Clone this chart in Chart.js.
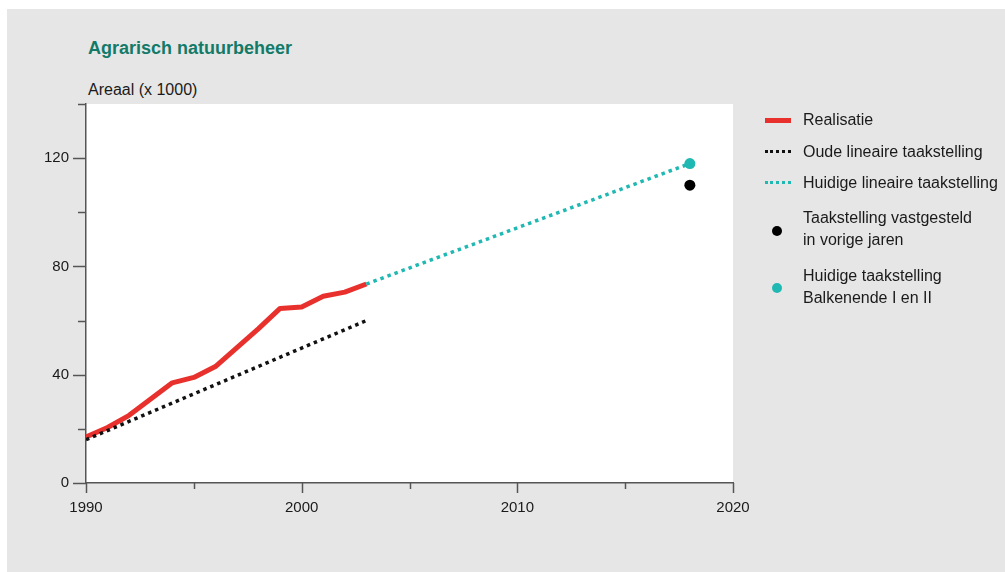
<!DOCTYPE html>
<html>
<head>
<meta charset="utf-8">
<script src="https://cdn.jsdelivr.net/npm/chart.js@4"></script>
<style>
  body { margin: 0; background: #fff; font-family: "Liberation Sans", Arial, sans-serif; }
  #wrap { position: relative; width: 1005px; height: 572px; overflow: hidden; }
  #bg { position: absolute; left: 7px; top: 9px; right: 0; bottom: 0; background: #e6e6e6; }
  #chart { position: absolute; left: 0; top: 0; }
  .title { position: absolute; left: 88px; top: 37px; font-size: 18px; font-weight: bold; color: #137a68; line-height: 22px; }
  .unit { position: absolute; left: 88px; top: 80px; font-size: 16px; color: #1a1a1a; line-height: 19px; }
  .leg { position: absolute; left: 803px; font-size: 16px; color: #1a1a1a; line-height: 22px; }
  .sw { position: absolute; }
</style>
</head>
<body>
<div id="wrap">
  <div id="bg"></div>
  <div class="title">Agrarisch natuurbeheer</div>
  <div class="unit">Areaal (x 1000)</div>
  <canvas id="chart" width="1005" height="572"></canvas>

  <div class="sw" style="left:765px;top:118px;width:26px;height:5px;background:#e8302c;"></div>
  <div class="leg" style="top:109px;">Realisatie</div>
  <div class="sw" style="left:765px;top:150px;width:26px;height:0;border-top:3px dotted #111;"></div>
  <div class="leg" style="top:141px;">Oude lineaire taakstelling</div>
  <div class="sw" style="left:765px;top:181px;width:26px;height:0;border-top:3px dotted #1fb8b2;"></div>
  <div class="leg" style="top:172px;">Huidige lineaire taakstelling</div>
  <div class="sw" style="left:772px;top:226px;width:10px;height:10px;border-radius:50%;background:#000;"></div>
  <div class="leg" style="top:207px;">Taakstelling vastgesteld<br>in vorige jaren</div>
  <div class="sw" style="left:772px;top:283px;width:10px;height:10px;border-radius:50%;background:#1fb8b2;"></div>
  <div class="leg" style="top:265px;">Huidige taakstelling<br>Balkenende I en II</div>
</div>
<script>
// data (areaal x 1000)
const jaren = [1990, 1991, 1992, 1993, 1994, 1995, 1996, 1997, 1998, 1999, 2000, 2001, 2002, 2003];
const realisatie = [17, 20.5, 25, 31, 37, 39, 43, 50, 57, 64.5, 65, 69, 70.5, 73.5];
const oudeJaren = [1990, 2003];
const oudeTaak = [16, 60];
const huidigeJaren = [2003, 2018];
const huidigeTaak = [73.5, 118];
const vorigeJaar = [2018];
const vorigeWaarde = [110];
const balkenendeJaar = [2018];
const balkenendeWaarde = [118];
const xTicks = [1990, 2000, 2010, 2020];
const yTicks = [0, 40, 80, 120];

const pts = (xs, ys) => xs.map((x, i) => ({ x: x, y: ys[i] }));

const plotBg = {
  id: 'plotBg',
  beforeDraw(chart) {
    const a = chart.chartArea, c = chart.ctx;
    c.save();
    c.fillStyle = '#ffffff';
    c.fillRect(a.left, a.top, a.right - a.left, a.bottom - a.top);
    c.restore();
  }
};

// tick marks: long at labelled values, short in between
const tickMarks = {
  id: 'tickMarks',
  afterDraw(chart) {
    const c = chart.ctx, xs = chart.scales.x, ys = chart.scales.y, a = chart.chartArea;
    c.save();
    c.strokeStyle = '#555';
    c.lineWidth = 1.5;
    for (let v = 0; v <= 140; v += 20) {
      const y = Math.round(ys.getPixelForValue(v)) + 0.5;
      const len = yTicks.includes(v) ? 13 : 8;
      c.beginPath(); c.moveTo(a.left - len, y); c.lineTo(a.left, y); c.stroke();
    }
    for (let v = 1990; v <= 2020; v += 5) {
      const x = Math.round(xs.getPixelForValue(v)) + 0.5;
      const len = xTicks.includes(v) ? 10 : 6;
      c.beginPath(); c.moveTo(x, a.bottom); c.lineTo(x, a.bottom + len); c.stroke();
    }
    c.restore();
  }
};

new Chart(document.getElementById('chart'), {
  type: 'line',
  data: {
    datasets: [
      { label: 'Oude lineaire taakstelling', data: pts(oudeJaren, oudeTaak), borderColor: '#111', borderWidth: 3.5, borderDash: [3.5, 4], pointRadius: 0 },
      { label: 'Huidige lineaire taakstelling', data: pts(huidigeJaren, huidigeTaak), borderColor: '#1fb8b2', borderWidth: 3.5, borderDash: [3.5, 4], pointRadius: 0 },
      { label: 'Realisatie', data: pts(jaren, realisatie), borderColor: '#e8302c', borderWidth: 5, pointRadius: 0, borderJoinStyle: 'round' },
      { label: 'Taakstelling vastgesteld in vorige jaren', data: pts(vorigeJaar, vorigeWaarde), showLine: false, pointRadius: 5.5, pointBackgroundColor: '#000', pointBorderWidth: 0 },
      { label: 'Huidige taakstelling Balkenende I en II', data: pts(balkenendeJaar, balkenendeWaarde), showLine: false, pointRadius: 5.5, pointBackgroundColor: '#1fb8b2', pointBorderWidth: 0 }
    ]
  },
  options: {
    responsive: false,
    animation: false,
    layout: { padding: { left: 0, top: 104, right: 272, bottom: 49 } },
    plugins: { legend: { display: false }, tooltip: { enabled: false } },
    scales: {
      x: {
        type: 'linear', min: 1990, max: 2020,
        afterFit(s) { s.height = 40; },
        afterBuildTicks(s) { s.ticks = xTicks.map(v => ({ value: v })); },
        grid: { display: false, drawTicks: false },
        border: { display: true, color: '#555', width: 1.5 },
        ticks: { padding: 16, color: '#1a1a1a', font: { family: 'Liberation Sans', size: 15 }, callback: v => String(v), maxRotation: 0 }
      },
      y: {
        min: 0, max: 140,
        afterFit(s) { s.width = 86; },
        afterBuildTicks(s) { s.ticks = yTicks.map(v => ({ value: v })); },
        grid: { display: false, drawTicks: false },
        border: { display: true, color: '#555', width: 1.5 },
        ticks: { padding: 17, color: '#1a1a1a', font: { family: 'Liberation Sans', size: 15 } }
      }
    }
  },
  plugins: [plotBg, tickMarks]
});
</script>
</body>
</html>
